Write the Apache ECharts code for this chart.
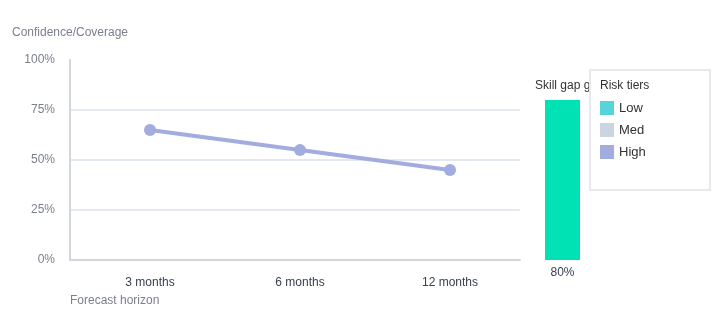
<!DOCTYPE html>
<html><head><meta charset="utf-8">
<script src="https://cdn.jsdelivr.net/npm/echarts@6/dist/echarts.min.js"></script>
<style>html,body{margin:0;padding:0;background:#fff}#c{width:720px;height:320px}</style>
</head><body><div id="c"></div>
<script>
const horizons = ['3 months', '6 months', '12 months'];
const highValues = [65, 55, 45];
const lowValues = [];
const medValues = [];
const skillGapCats = ['Skill gap'];
const skillGapValues = [80];
const yTicks = [0, 25, 50, 75, 100];
const tierNames = ['Low', 'Med', 'High'];

const chart = echarts.init(document.getElementById('c'), null, {renderer: 'canvas'});
const font = 'Liberation Sans, Arial, sans-serif';
const gridLine = '#e4e8f1';
const axisCol = '#d3d7dd';
chart.setOption({
  animation: false,
  textStyle: {fontFamily: font},
  title: [
    {text: 'Skill gap gauge', left: 535, top: 80, padding: 0, textStyle: {fontSize: 12, fontWeight: 'normal', color: '#333', fontFamily: font}},
    {text: 'Forecast horizon', left: 70, top: 295, padding: 0, textStyle: {fontSize: 12, fontWeight: 'normal', color: '#7a7f8c', fontFamily: font}}
  ],
  graphic: [
    {type: 'rect', z: 100, shape: {x: 590, y: 70, width: 120, height: 120}, style: {fill: '#fff', stroke: '#e6e8ec', lineWidth: 2}},
    {type: 'text', z: 101, left: 600, top: 80, style: {text: 'Risk tiers', fontSize: 12, fill: '#333', fontFamily: font}}
  ],
  legend: {
    z: 110, orient: 'vertical', left: 600, top: 101, padding: 0, itemWidth: 14, itemHeight: 14, itemGap: 8,
    icon: 'rect', data: tierNames,
    textStyle: {fontSize: 13, color: '#333', fontFamily: font}
  },
  grid: [
    {left: 70, top: 60, width: 450, height: 200},
    {left: 75, top: 60, width: 450, height: 200},
    {left: 545, top: 60, width: 35, height: 200}
  ],
  xAxis: [
    {gridIndex: 0, type: 'category', data: horizons, axisLine: {lineStyle: {color: axisCol, width: 2}}, axisTick: {show: false}, axisLabel: {show: false}},
    {gridIndex: 1, type: 'category', data: horizons, axisLine: {show: false}, axisTick: {show: false},
     axisLabel: {color: '#374151', fontSize: 12, margin: 17, fontFamily: font}},
    {gridIndex: 2, type: 'category', data: skillGapCats, axisLine: {show: false}, axisTick: {show: false},
     axisLabel: {color: '#374151', fontSize: 12, margin: 7, fontFamily: font, formatter: (v, i) => skillGapValues[i] + '%'}}
  ],
  yAxis: [
    {gridIndex: 0, type: 'value', min: 0, max: 100, interval: 25,
     name: 'Confidence/Coverage', nameLocation: 'end', nameGap: 21,
     nameTextStyle: {color: '#7a7f8c', fontSize: 12, fontFamily: font},
     axisLine: {show: true, lineStyle: {color: axisCol, width: 2}}, axisTick: {show: false},
     axisLabel: {color: '#7a7f8c', fontSize: 12, margin: 15, fontFamily: font, formatter: v => yTicks.includes(v) ? v + '%' : ''},
     splitLine: {lineStyle: {color: [gridLine, gridLine, gridLine, gridLine, 'rgba(0,0,0,0)'], width: 2}}},
    {gridIndex: 1, type: 'value', min: 0, max: 100, show: false},
    {gridIndex: 2, type: 'value', min: 0, max: 100, show: false}
  ],
  series: [
    {name: 'Low', type: 'line', xAxisIndex: 1, yAxisIndex: 1, data: lowValues, color: '#55d4da'},
    {name: 'Med', type: 'line', xAxisIndex: 1, yAxisIndex: 1, data: medValues, color: '#cbd5e2'},
    {name: 'High', type: 'line', xAxisIndex: 1, yAxisIndex: 1, data: highValues, color: '#a3acdf',
     symbol: 'circle', symbolSize: 12, lineStyle: {width: 4, color: '#a3acdf'}, itemStyle: {color: '#a3acdf'}},
    {name: 'Skill gap', type: 'bar', xAxisIndex: 2, yAxisIndex: 2, data: skillGapValues, barWidth: '100%',
     itemStyle: {color: '#00e2b3'}}
  ]
});
</script></body></html>
